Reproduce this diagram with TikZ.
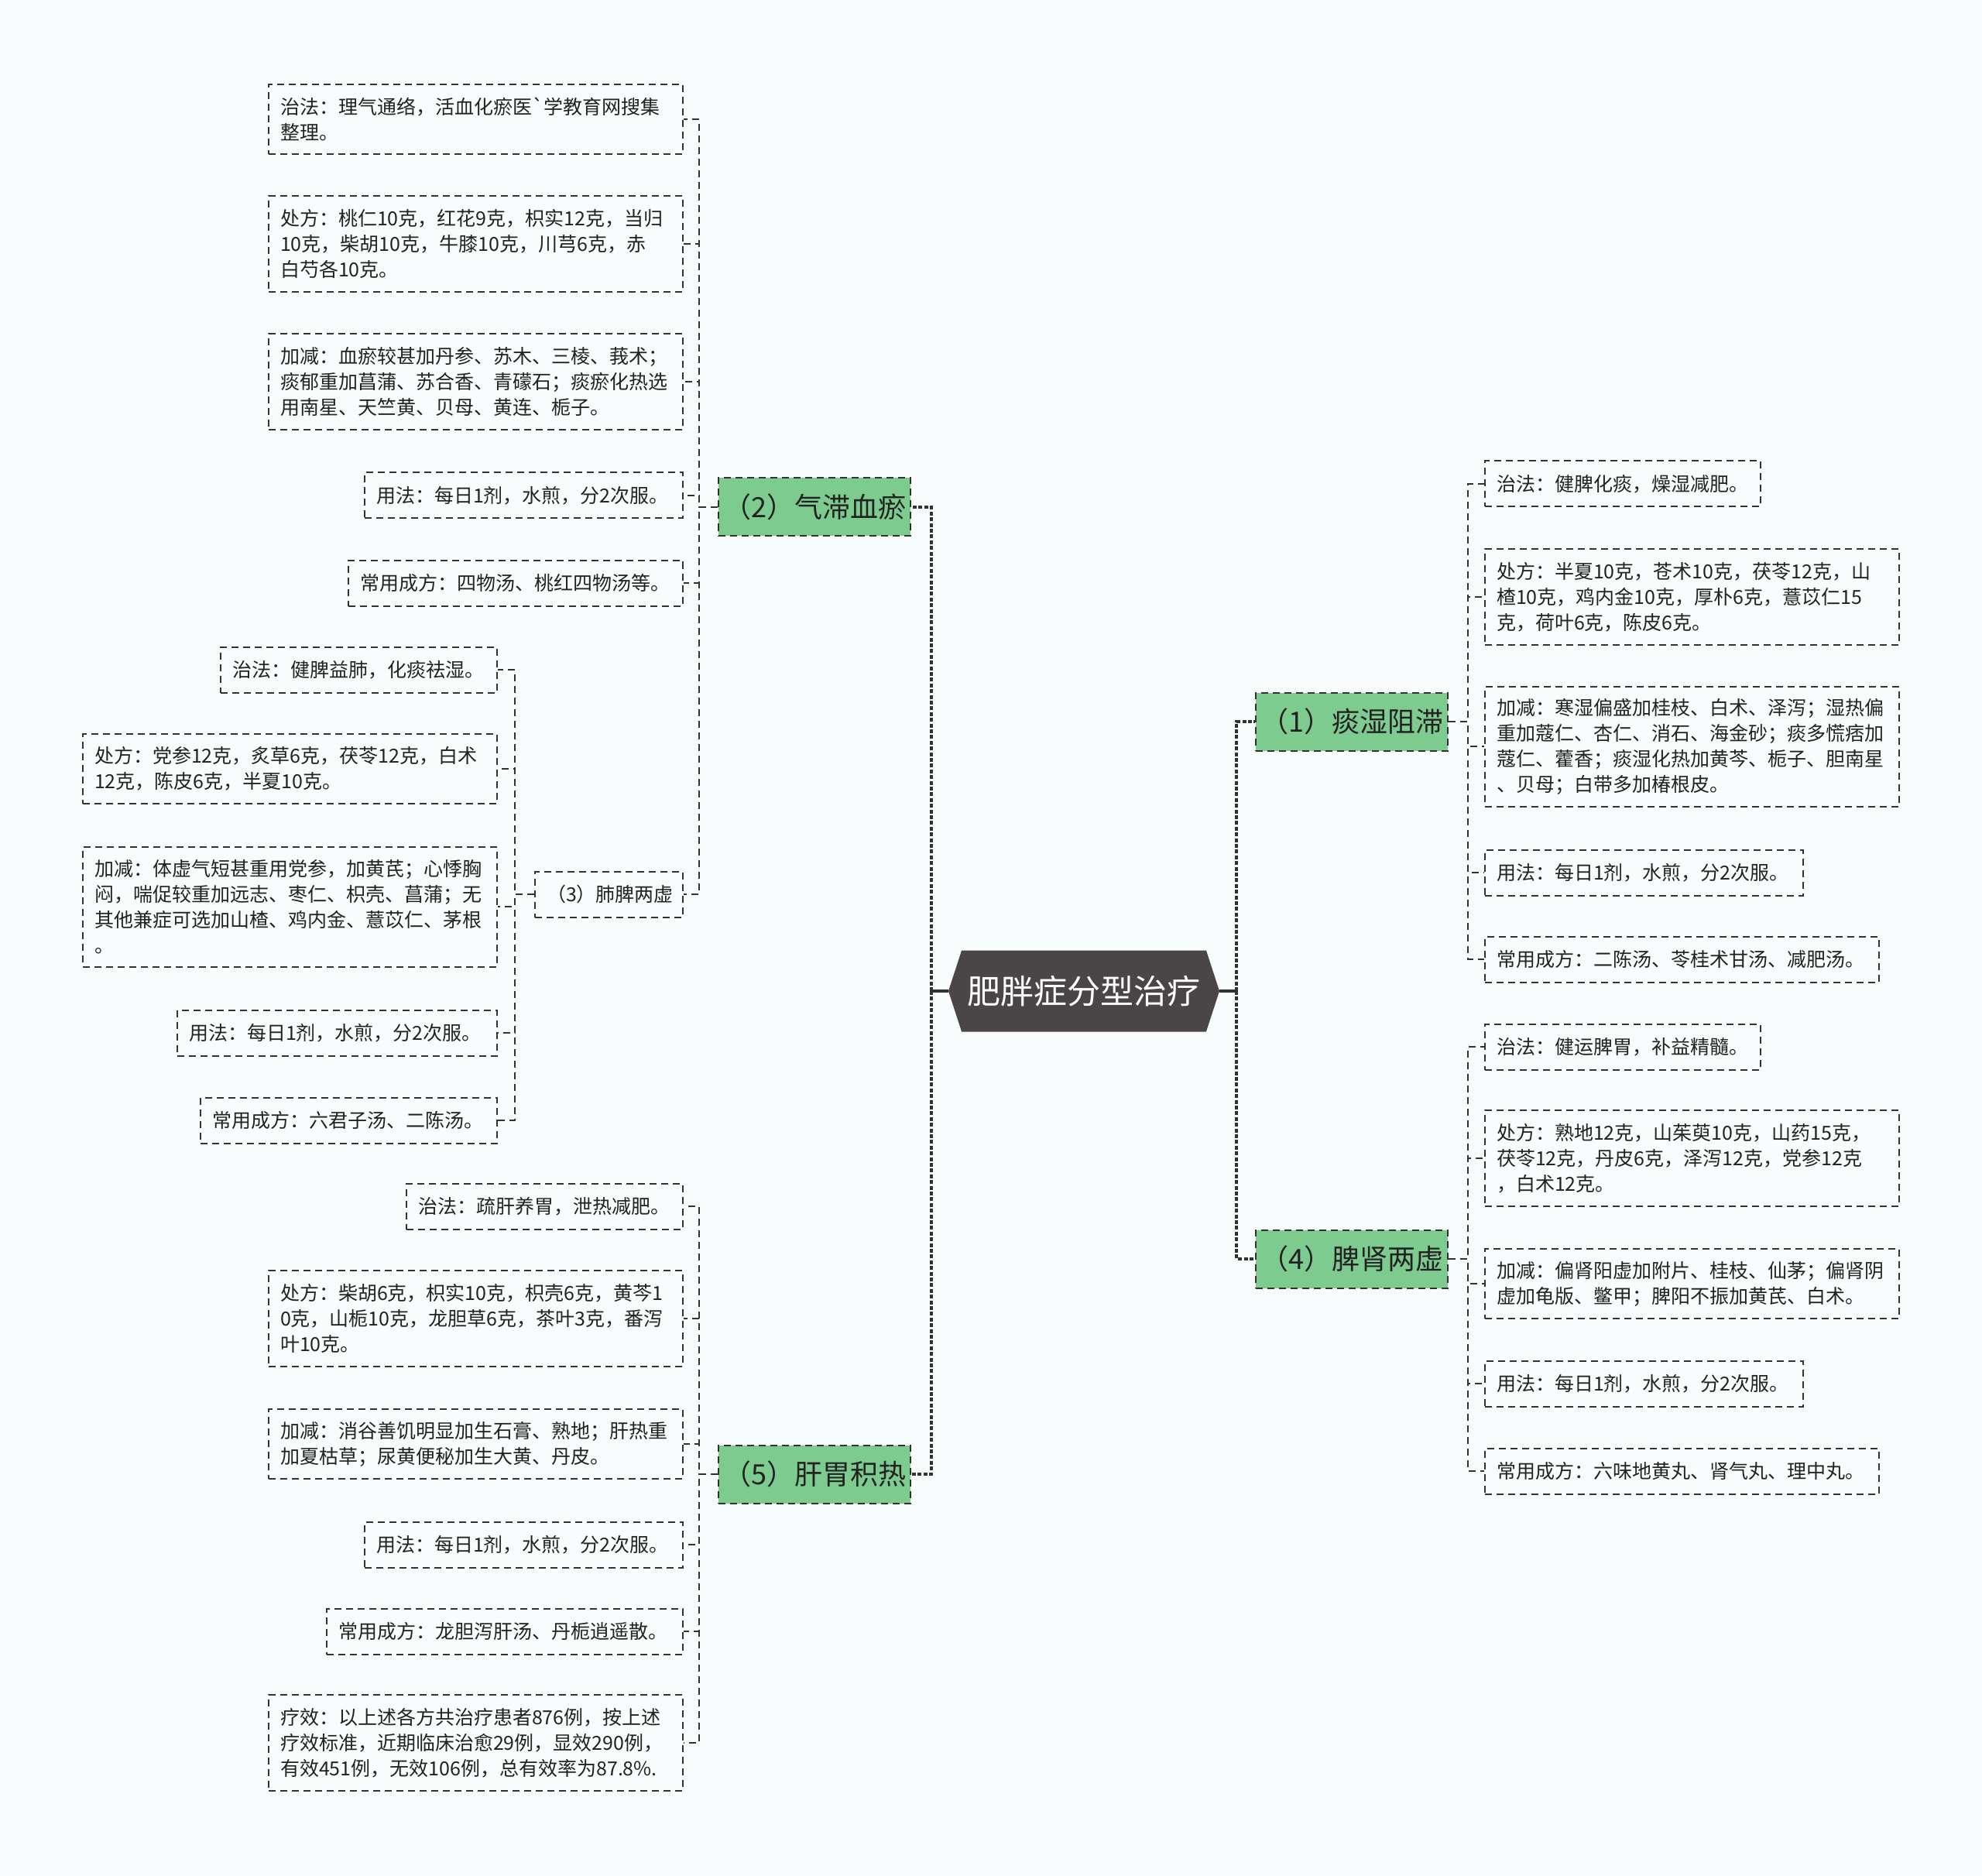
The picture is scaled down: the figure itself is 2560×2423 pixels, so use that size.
\documentclass[tikz,border=0pt]{standalone}
\usepackage{fontspec}
\setmainfont{Noto Sans CJK SC}
\usetikzlibrary{calc,shapes.symbols}
\definecolor{bgcol}{RGB}{248,252,252}
\definecolor{linecol}{RGB}{50,50,50}
\definecolor{txtcol}{RGB}{34,34,34}
\definecolor{topicgreen}{RGB}{126,203,143}
\definecolor{rootgray}{RGB}{74,69,70}

\begin{document}
\begin{tikzpicture}[
  x=0.5pt, y=-0.5pt,
  dsh/.style={dash pattern=on 4.5pt off 3pt},
  leaf/.style={draw=linecol, dsh, line width=1pt, text=txtcol, align=left,
               inner xsep=7.5pt, inner ysep=4pt,
               font=\fontsize{12.5pt}{16.5pt}\selectfont},
  ln1/.style={leaf, minimum height=29.5pt},
  ln2/.style={leaf, minimum height=45pt, text width=252.5pt},
  ln3/.style={leaf, minimum height=62pt, text width=252.5pt},
  ln4/.style={leaf, minimum height=77.5pt, text width=252.5pt},
  topic/.style={draw=linecol, dsh, line width=1pt, fill=topicgreen, text=txtcol,
                minimum width=124pt, minimum height=37.5pt, inner sep=0pt,
                font=\fontsize{18pt}{20pt}\selectfont},
  rootbox/.style={shape=signal, signal to=west and east, signal pointer angle=144,
                  fill=rootgray, text=white, minimum width=175pt, minimum height=52.5pt,
                  inner sep=0pt, font=\fontsize{21.5pt}{24pt}\selectfont},
  link/.style={linecol, line width=1pt, dsh},
  trunk/.style={linecol, line width=2pt, dash pattern=on 2.5pt off 1.2pt}]
\useasboundingbox[fill=bgcol] (0,0) rectangle (2560,2423);

\node[rootbox] (root) at (1400,1280) {肥胖症分型治疗};
\node[topic, anchor=west] (t1) at (1621,932) {（1）痰湿阻滞};
\node[topic, anchor=east] (t2) at (1177,655) {（2）气滞血瘀};
\node[topic, anchor=west] (t4) at (1621,1626) {（4）脾肾两虚};
\node[topic, anchor=east] (t5) at (1177,1904) {（5）肝胃积热};

\node[ln2, anchor=east] (a1) at (883,154) {治法：理气通络，活血化瘀医\textasciigrave 学教育网搜集\\整理。};
\node[ln3, anchor=east] (a2) at (883,315) {处方：桃仁10克，红花9克，枳实12克，当归\\10克，柴胡10克，牛膝10克，川芎6克，赤\\白芍各10克。};
\node[ln3, anchor=east] (a3) at (883,493) {加减：血瘀较甚加丹参、苏木、三棱、莪术；\\痰郁重加菖蒲、苏合香、青礞石；痰瘀化热选\\用南星、天竺黄、贝母、黄连、栀子。};
\node[ln1, text width=190.5pt, anchor=east] (a4) at (883,640) {用法：每日1剂，水煎，分2次服。};
\node[ln1, text width=201pt, anchor=east] (a5) at (883,753) {常用成方：四物汤、桃红四物汤等。};
\node[ln1, text width=80.5pt, anchor=east] (t3) at (883,1155) {（3）肺脾两虚};

\node[ln1, text width=163.5pt, anchor=east] (b1) at (643,865) {治法：健脾益肺，化痰祛湿。};
\node[ln2, anchor=east] (b2) at (643,993) {处方：党参12克，炙草6克，茯苓12克，白术\\12克，陈皮6克，半夏10克。};
\node[ln4, anchor=east] (b3) at (643,1171) {加减：体虚气短甚重用党参，加黄芪；心悸胸\\闷，喘促较重加远志、枣仁、枳壳、菖蒲；无\\其他兼症可选加山楂、鸡内金、薏苡仁、茅根\\。};
\node[ln1, text width=191.5pt, anchor=east] (b4) at (643,1334) {用法：每日1剂，水煎，分2次服。};
\node[ln1, text width=176.5pt, anchor=east] (b5) at (643,1447) {常用成方：六君子汤、二陈汤。};

\node[ln1, text width=163.5pt, anchor=east] (c1) at (883,1558) {治法：疏肝养胃，泄热减肥。};
\node[ln3, anchor=east] (c2) at (883,1703) {处方：柴胡6克，枳实10克，枳壳6克，黄芩1\\0克，山栀10克，龙胆草6克，茶叶3克，番泻\\叶10克。};
\node[ln2, anchor=east] (c3) at (883,1865) {加减：消谷善饥明显加生石膏、熟地；肝热重\\加夏枯草；尿黄便秘加生大黄、丹皮。};
\node[ln1, text width=190.5pt, anchor=east] (c4) at (883,1995) {用法：每日1剂，水煎，分2次服。};
\node[ln1, text width=215pt, anchor=east] (c5) at (883,2107) {常用成方：龙胆泻肝汤、丹栀逍遥散。};
\node[ln3, anchor=east] (c6) at (883,2251) {疗效：以上述各方共治疗患者876例，按上述\\疗效标准，近期临床治愈29例，显效290例，\\有效451例，无效106例，总有效率为87.8\%.};

\node[ln1, text width=163pt, anchor=west] (d1) at (1917,625) {治法：健脾化痰，燥湿减肥。};
\node[ln3, anchor=west] (d2) at (1917,771) {处方：半夏10克，苍术10克，茯苓12克，山\\楂10克，鸡内金10克，厚朴6克，薏苡仁15\\克，荷叶6克，陈皮6克。};
\node[ln4, anchor=west] (d3) at (1917,964) {加减：寒湿偏盛加桂枝、白术、泽泻；湿热偏\\重加蔻仁、杏仁、消石、海金砂；痰多慌痞加\\蔻仁、藿香；痰湿化热加黄芩、栀子、胆南星\\、贝母；白带多加椿根皮。};
\node[ln1, text width=190.5pt, anchor=west] (d4) at (1917,1127) {用法：每日1剂，水煎，分2次服。};
\node[ln1, text width=239.5pt, anchor=west] (d5) at (1917,1239) {常用成方：二陈汤、苓桂术甘汤、减肥汤。};

\node[ln1, text width=163pt, anchor=west] (e1) at (1917,1352) {治法：健运脾胃，补益精髓。};
\node[ln3, anchor=west] (e2) at (1917,1496) {处方：熟地12克，山茱萸10克，山药15克，\\茯苓12克，丹皮6克，泽泻12克，党参12克\\，白术12克。};
\node[ln2, anchor=west] (e3) at (1917,1658) {加减：偏肾阳虚加附片、桂枝、仙茅；偏肾阴\\虚加龟版、鳖甲；脾阳不振加黄芪、白术。};
\node[ln1, text width=190.5pt, anchor=west] (e4) at (1917,1787) {用法：每日1剂，水煎，分2次服。};
\node[ln1, text width=239.5pt, anchor=west] (e5) at (1917,1900) {常用成方：六味地黄丸、肾气丸、理中丸。};

\coordinate (rl) at ($(root.west)+(-22,0)$);
\coordinate (rr) at ($(root.east)+(22,0)$);
\draw[linecol, line width=2pt] (root.west) -- (rl);
\draw[linecol, line width=2pt] (root.east) -- (rr);
\foreach \t in {t2,t5} \draw[trunk] (rl) |- (\t.east);
\foreach \t in {t1,t4} \draw[trunk] (rr) |- (\t.west);

\coordinate (j1) at ($(t1.east)+(25,0)$);
\coordinate (j2) at ($(t2.west)+(-24,0)$);
\coordinate (j3) at ($(t3.west)+(-25,0)$);
\coordinate (j4) at ($(t4.east)+(25,0)$);
\coordinate (j5) at ($(t5.west)+(-24,0)$);
\foreach \c in {d1,d2,d3,d4,d5} \draw[link] (t1.east) -- (j1) |- (\c.west);
\foreach \c in {e1,e2,e3,e4,e5} \draw[link] (t4.east) -- (j4) |- (\c.west);
\foreach \c in {a1,a2,a3,a4,a5,t3} \draw[link] (t2.west) -- (j2) |- (\c.east);
\foreach \c in {b1,b2,b3,b4,b5} \draw[link] (t3.west) -- (j3) |- (\c.east);
\foreach \c in {c1,c2,c3,c4,c5,c6} \draw[link] (t5.west) -- (j5) |- (\c.east);
\end{tikzpicture}
\end{document}
